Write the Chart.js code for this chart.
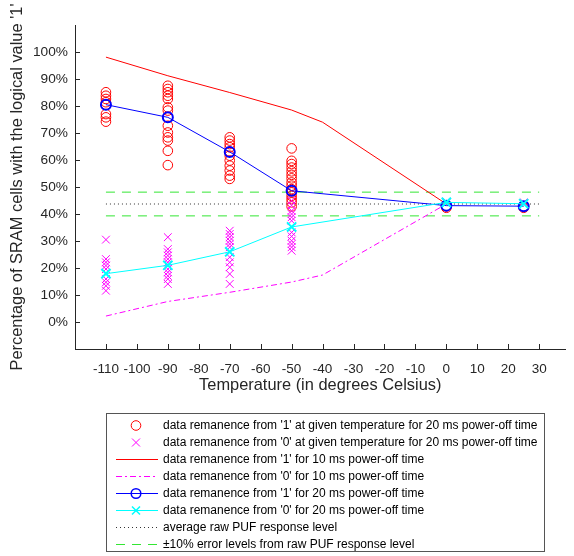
<!DOCTYPE html>
<html>
<head>
<meta charset="utf-8">
<script src="https://cdn.jsdelivr.net/npm/chart.js@4.4.1/dist/chart.umd.min.js"></script>
<style>
  html, body { margin: 0; padding: 0; background: #fff; }
</style>
</head>
<body>
<canvas id="chart" width="574" height="556"></canvas>
<script>
// temperatures (degrees Celsius)
var temps20 = [-110, -90, -70, -50, 0, 25];
var temps10 = [-110, -90, -70, -50, -40, 0];

// individual measurements, 20 ms power-off time (one list per temperature)
var from1Points = [
    [85.1, 83.8, 82.6, 81.4, 80.4, 77, 75.8, 74.2],
    [87.5, 86.3, 85.1, 83.8, 82.6, 79.5, 78.3, 75.8, 72.7, 70.2, 68.4, 67.2, 63.4, 58.1],
    [68.4, 67.2, 65.9, 64.7, 63.1, 61.6, 59.8, 57.9, 56.1, 54.2, 53],
    [64.3, 59.7, 58.5, 57.2, 55.8, 54.5, 53.2, 51.7, 50.5, 49.2, 48, 46.7, 45.5, 44.3, 42.8],
    [42.3, 42.8],
    [42.3, 42.8]
];
var from0Points = [
    [30.5, 23.3, 22.1, 20.9, 19.6, 17.8, 15.9, 14.7, 13.4, 11.6],
    [31.4, 27, 25.8, 24.6, 23.3, 22.1, 20.9, 19.6, 18.4, 17.1, 15.9, 14.1],
    [33.8, 32.6, 31.4, 30.1, 28.9, 27.7, 25.8, 24, 22.1, 20.3, 17.8, 14.1],
    [44.9, 43.2, 41.2, 40, 38.8, 37.5, 35, 33.2, 31.7, 30.1, 28.9, 27.7, 26.4],
    [44.6, 44.1],
    [44.3, 43.8]
];

// averaged curves
var from1_10ms = [98.1, 91.2, 85, 78.5, 74, 43.7];
var from0_10ms = [2.2, 7.6, 11, 14.8, 17.4, 43.7];
var from1_20ms = [80.5, 75.8, 63, 48.6, 43.1, 42.9];
var from0_20ms = [17.9, 21, 26, 35.2, 44.3, 43.8];

// reference levels
var refTemps = [-110, 30];
var avgLevel = 43.7;
var errUpper = 48.1;
var errLower = 39.3;

// axis ticks
var xTicks = [-110, -100, -90, -80, -70, -60, -50, -40, -30, -20, -10, 0, 10, 20, 30];
var yTicks = [0, 10, 20, 30, 40, 50, 60, 70, 80, 90, 100];

var legendLabels = [
    "data remanence from '1' at given temperature for 20 ms power-off time",
    "data remanence from '0' at given temperature for 20 ms power-off time",
    "data remanence from '1' for 10 ms power-off time",
    "data remanence from '0' for 10 ms power-off time",
    "data remanence from '1' for 20 ms power-off time",
    "data remanence from '0' for 20 ms power-off time",
    "average raw PUF response level",
    "\u00b110% error levels from raw PUF response level"
];

var RED = '#ff0000', MAG = '#ff00ff', BLUE = '#0000ff', CYAN = '#00ffff', GREEN = '#33e633';

function pairs(xs, ys) {
    return xs.map(function(x, i) { return {x: x, y: ys[i]}; });
}
function spread(xs, lists) {
    var out = [];
    lists.forEach(function(list, i) {
        list.forEach(function(v) { out.push({x: xs[i], y: v}); });
    });
    return out;
}
function flat(level) {
    return refTemps.map(function(x) { return {x: x, y: level}; });
}

Chart.defaults.font.family = "'Liberation Sans', Arial, sans-serif";
Chart.defaults.color = '#262626';

// inward tick marks like the original figure
var tickMarks = {
    id: 'tickMarks',
    afterDraw: function(chart) {
        var ctx = chart.ctx, a = chart.chartArea;
        var sx = chart.scales.x, sy = chart.scales.y;
        ctx.save();
        ctx.strokeStyle = '#262626';
        ctx.lineWidth = 1;
        ctx.beginPath();
        xTicks.forEach(function(v) {
            var px = Math.round(sx.getPixelForValue(v)) + 0.5;
            ctx.moveTo(px, a.bottom);
            ctx.lineTo(px, a.bottom - 5);
        });
        yTicks.forEach(function(v) {
            var py = Math.round(sy.getPixelForValue(v)) + 0.5;
            ctx.moveTo(a.left, py);
            ctx.lineTo(a.left + 5, py);
        });
        ctx.stroke();
        ctx.restore();
    }
};

// boxed legend below the axes
var styles = [
    {color: RED, marker: 'circle'},
    {color: MAG, marker: 'cross'},
    {color: RED, line: [1, 0]},
    {color: MAG, line: [6, 3, 2, 3]},
    {color: BLUE, line: [1, 0], marker: 'circle', width: 1.5},
    {color: CYAN, line: [1, 0], marker: 'cross', width: 1.5},
    {color: '#333', line: [1, 3]},
    {color: GREEN, line: [9, 7]}
];
var boxLegend = {
    id: 'boxLegend',
    afterDraw: function(chart) {
        var ctx = chart.ctx;
        ctx.save();
        ctx.fillStyle = '#fff';
        ctx.fillRect(106, 413, 438, 139);
        ctx.strokeStyle = '#555';
        ctx.lineWidth = 1;
        ctx.strokeRect(106.5, 413.5, 438, 138);
        ctx.font = "12px 'Liberation Sans', Arial, sans-serif";
        ctx.textBaseline = 'middle';
        legendLabels.forEach(function(label, i) {
            var y = Math.round(425 + i * 17.05) + 0.5;
            var s = styles[i];
            ctx.strokeStyle = s.color;
            if (s.line) {
                ctx.lineWidth = 1;
                ctx.setLineDash(s.line[1] ? s.line : []);
                ctx.beginPath();
                ctx.moveTo(116, y);
                ctx.lineTo(158, y);
                ctx.stroke();
                ctx.setLineDash([]);
            }
            ctx.lineWidth = s.width || 1;
            if (s.marker === 'circle') {
                ctx.beginPath();
                ctx.arc(136, y, 4.8, 0, Math.PI * 2);
                ctx.stroke();
            } else if (s.marker === 'cross') {
                ctx.beginPath();
                ctx.moveTo(132, y - 4); ctx.lineTo(140, y + 4);
                ctx.moveTo(140, y - 4); ctx.lineTo(132, y + 4);
                ctx.stroke();
            }
            ctx.fillStyle = '#000';
            ctx.fillText(label, 163, y);
        });
        ctx.restore();
    }
};

var ctx = document.getElementById('chart').getContext('2d');
var myChart = new Chart(ctx, {
    type: 'line',
    data: {
        datasets: [{
            data: pairs(temps20, from0_20ms),
            borderColor: CYAN,
            borderWidth: 1,
            pointStyle: 'crossRot',
            pointRadius: 6.5,
            pointBorderWidth: 2,
            pointBorderColor: CYAN,
            tension: 0
        }, {
            data: pairs(temps20, from1_20ms),
            borderColor: BLUE,
            borderWidth: 1,
            pointStyle: 'circle',
            pointRadius: 5,
            pointBorderWidth: 2,
            pointBackgroundColor: 'rgba(0,0,0,0)',
            pointBorderColor: BLUE,
            tension: 0
        }, {
            data: spread(temps20, from0Points),
            showLine: false,
            pointStyle: 'crossRot',
            pointRadius: 5.5,
            pointBorderWidth: 1,
            pointBorderColor: MAG
        }, {
            data: spread(temps20, from1Points),
            showLine: false,
            pointStyle: 'circle',
            pointRadius: 4.8,
            pointBorderWidth: 1,
            pointBackgroundColor: 'rgba(0,0,0,0)',
            pointBorderColor: RED
        }, {
            data: pairs(temps10, from1_10ms),
            borderColor: RED,
            borderWidth: 1,
            pointRadius: 0,
            tension: 0
        }, {
            data: pairs(temps10, from0_10ms),
            borderColor: MAG,
            borderWidth: 1,
            borderDash: [6, 3, 2, 3],
            pointRadius: 0,
            tension: 0
        }, {
            data: flat(avgLevel),
            borderColor: '#333',
            borderWidth: 1,
            borderDash: [1, 3],
            pointRadius: 0
        }, {
            data: flat(errUpper),
            borderColor: GREEN,
            borderWidth: 1,
            borderDash: [9, 7],
            pointRadius: 0
        }, {
            data: flat(errLower),
            borderColor: GREEN,
            borderWidth: 1,
            borderDash: [9, 7],
            pointRadius: 0
        }]
    },
    options: {
        responsive: false,
        animation: false,
        layout: { padding: { left: 0, right: 0, top: 25, bottom: 157 } },
        plugins: {
            legend: { display: false },
            tooltip: { enabled: false }
        },
        scales: {
            x: {
                type: 'linear',
                min: -120,
                max: 38.5,
                afterBuildTicks: function(scale) {
                    scale.ticks = xTicks.map(function(v) { return {value: v}; });
                },
                afterFit: function(scale) { scale.height = 50; },
                grid: { display: false, drawTicks: false },
                border: { display: true, color: '#262626' },
                ticks: {
                    autoSkip: false,
                    maxRotation: 0,
                    padding: 12,
                    font: { size: 13.5 },
                    callback: function(value) { return value; }
                },
                title: {
                    display: true,
                    text: 'Temperature (in degrees Celsius)',
                    font: { size: 16.4 },
                    padding: { top: 0, bottom: 4 }
                }
            },
            y: {
                min: -10,
                max: 110,
                afterBuildTicks: function(scale) {
                    scale.ticks = yTicks.map(function(v) { return {value: v}; });
                },
                afterFit: function(scale) { scale.width = 75; },
                grid: { display: false, drawTicks: false },
                border: { display: true, color: '#262626' },
                ticks: {
                    padding: 7,
                    font: { size: 13.7 },
                    callback: function(value) { return value + '%'; }
                },
                title: {
                    display: true,
                    text: "Percentage of SRAM cells with the logical value '1'",
                    font: { size: 16.4 },
                    padding: { top: 8, bottom: 0 }
                }
            }
        }
    },
    plugins: [tickMarks, boxLegend]
});
</script>
</body>
</html>
